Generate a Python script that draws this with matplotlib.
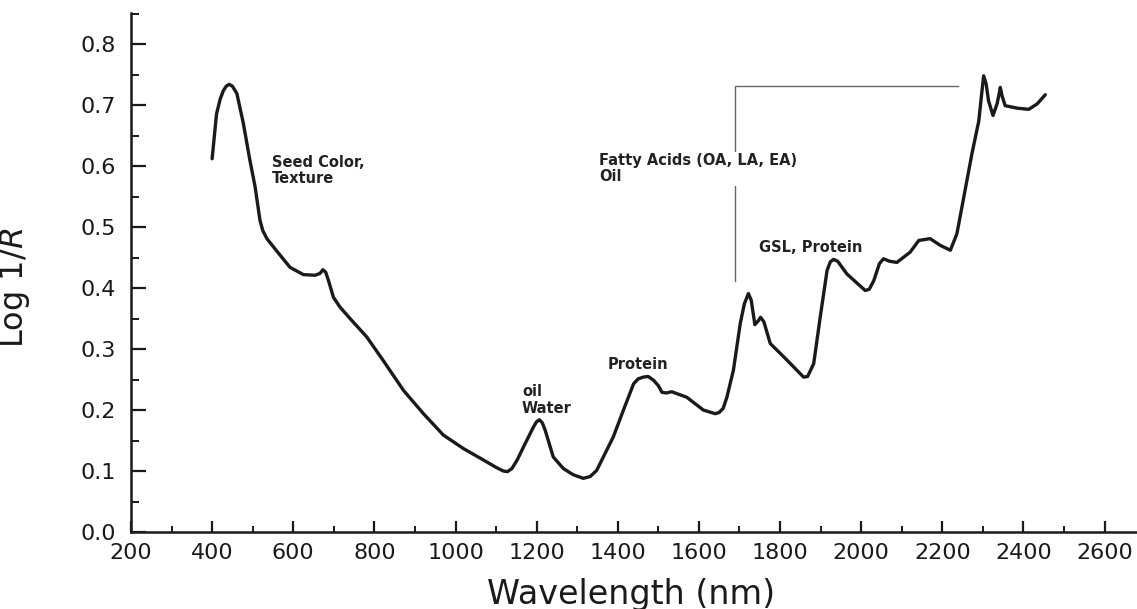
import matplotlib
matplotlib.use("Agg")
import matplotlib.pyplot as plt
from matplotlib.ticker import MultipleLocator, FormatStrFormatter

# ---- data ----
wavelength = [400, 411, 420, 428, 435, 442, 450, 461, 477, 493, 506, 518, 525, 535,
              559, 592, 625, 654, 666, 673, 680, 687, 699, 715, 740, 781, 822, 872,
              921, 970, 1019, 1069, 1100, 1118, 1128, 1139, 1152, 1168, 1192, 1200,
              1207, 1214, 1221, 1241, 1266, 1290, 1315, 1332, 1348, 1389, 1414, 1439,
              1450, 1463, 1475, 1488, 1500, 1509, 1520, 1533, 1570, 1611, 1640, 1650,
              1660, 1669, 1685, 1702, 1712, 1722, 1729, 1738, 1746, 1752, 1760, 1776,
              1817, 1858, 1868, 1883, 1899, 1916, 1924, 1932, 1942, 1965, 2010, 2020,
              2031, 2045, 2055, 2070, 2088, 2121, 2142, 2170, 2195, 2220, 2236, 2253,
              2273, 2290, 2297, 2302, 2308, 2314, 2325, 2335, 2340, 2343, 2347, 2355,
              2384, 2413, 2434, 2454]
log_1_r = [0.612, 0.686, 0.710, 0.724, 0.731, 0.734, 0.731, 0.719, 0.670, 0.610,
           0.566, 0.511, 0.494, 0.481, 0.461, 0.434, 0.422, 0.421, 0.424, 0.430,
           0.426, 0.412, 0.385, 0.369, 0.350, 0.320, 0.281, 0.232, 0.194, 0.159,
           0.137, 0.118, 0.106, 0.100, 0.099, 0.104, 0.118, 0.140, 0.172, 0.181,
           0.184, 0.179, 0.167, 0.123, 0.104, 0.094, 0.088, 0.091, 0.101, 0.156,
           0.200, 0.243, 0.251, 0.254, 0.255, 0.249, 0.240, 0.229, 0.228, 0.230,
           0.221, 0.200, 0.194, 0.196, 0.203, 0.221, 0.265, 0.342, 0.374, 0.391,
           0.380, 0.340, 0.346, 0.352, 0.345, 0.309, 0.282, 0.254, 0.255, 0.276,
           0.352, 0.429, 0.443, 0.447, 0.444, 0.423, 0.396, 0.398, 0.412, 0.440,
           0.448, 0.444, 0.442, 0.459, 0.478, 0.481, 0.470, 0.462, 0.489, 0.549,
           0.620, 0.674, 0.718, 0.748, 0.735, 0.707, 0.683, 0.702, 0.718, 0.729,
           0.716, 0.699, 0.695, 0.693, 0.702, 0.717]

annotations = ["Seed Color,\nTexture", "Fatty Acids (OA, LA, EA)\nOil",
               "GSL, Protein", "Protein", "oil\nWater"]
annot_x = [548, 1354, 1749, 1376, 1164]
annot_y = [0.618, 0.621, 0.478, 0.287, 0.242]

x_ticks = list(range(200, 2601, 200))
y_ticks = [0.0, 0.1, 0.2, 0.3, 0.4, 0.5, 0.6, 0.7, 0.8]

plt.rcParams['font.family'] = ['DejaVu Sans']

fig = plt.figure(figsize=(11.37, 6.09), dpi=100)
ax = fig.add_axes([0.1152, 0.1264, 0.8848, 0.8518])

ax.plot(wavelength, log_1_r, color='#1a1a1a', lw=2.4, solid_joinstyle='round',
        solid_capstyle='round', zorder=3)

# bracket for fatty acids / oil
ax.plot([1690, 1690, 2239], [0.411, 0.731, 0.731], color='#666666', lw=1.0, zorder=1)

for i, (txt, tx, ty) in enumerate(zip(annotations, annot_x, annot_y)):
    kw = {}
    if i == 1:
        kw['bbox'] = dict(facecolor='white', edgecolor='none', pad=1.0)
    ax.text(tx, ty, txt, fontsize=10.5, fontweight='bold', color='#222222',
            ha='left', va='top', linespacing=1.1, zorder=2, **kw)

ax.set_xlim(200, 2680)
ax.set_ylim(0, 0.8505)
ax.set_xticks(x_ticks)
ax.set_yticks(y_ticks)
ax.xaxis.set_minor_locator(MultipleLocator(100))
ax.yaxis.set_minor_locator(MultipleLocator(0.05))
ax.yaxis.set_major_formatter(FormatStrFormatter('%.1f'))

for s in ['top', 'right']:
    ax.spines[s].set_visible(False)
for s in ['left', 'bottom']:
    ax.spines[s].set_linewidth(1.8)
    ax.spines[s].set_color('#1a1a1a')

ax.tick_params(axis='both', which='major', direction='in', length=8, width=1.6,
               colors='#1a1a1a', labelsize=16)
ax.tick_params(axis='both', which='minor', direction='in', length=4.5, width=1.4,
               colors='#1a1a1a')
ax.tick_params(axis='y', which='major', length=11, pad=11)
ax.tick_params(axis='y', which='minor', length=6)
ax.tick_params(axis='x', which='major', pad=8)

ax.set_xlabel('Wavelength (nm)', fontsize=24, color='#1a1a1a')
ax.set_ylabel('Log 1/$R$', fontsize=23, color='#1a1a1a')
ax.yaxis.set_label_coords(-0.098, 0.47)
ax.xaxis.set_label_coords(0.497, -0.088)

fig.savefig('out.png', dpi=100, facecolor='white')
